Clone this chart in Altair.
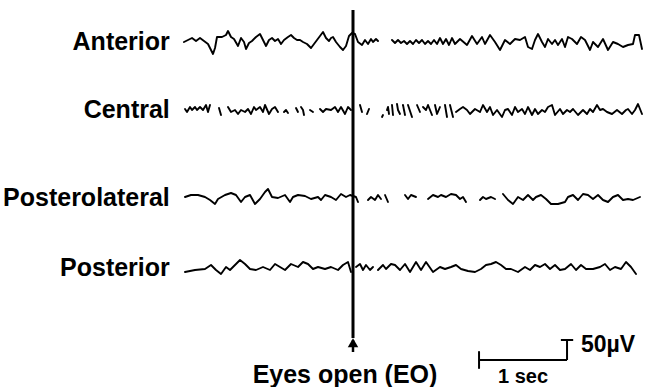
import altair as alt
import pandas as pd

# ---------------- data ----------------
FS = 88                     # digitised samples per second (1 s = 88 samples)
CHANNELS = ["Anterior", "Central", "Posterolateral", "Posterior"]
OFFSETS_UV = [0, -170, -390, -565]   # vertical stacking of the four derivations
EO_SAMPLE = 170                       # eyes open marker

anterior_n = [1, 5, 9, 13, 17, 21, 25, 28, 30, 32, 34, 39, 43, 45, 48, 51, 55, 58, 61, 63, 66, 69, 73, 77, 80, 83,
              86, 89, 92, 95, 98, 101, 105, 108, 111, 114, 117, 120, 124, 128, 131, 134, 137, 140, 143, 146, 148,
              150, 153, 157, 160, 163, 166, 169, 172, 175, 179, 182, 185, 188, 190, 193, 195,
              209, 212, 215, 218, 221, 224, 227, 230, 233, 236, 239, 242, 245, 248, 251, 254, 257, 260, 263, 266,
              269, 272, 277, 284, 289, 294, 299, 302, 307, 312, 317, 322, 327, 332, 337, 342, 345, 349, 352, 355,
              359, 362, 365, 369, 372, 375, 379, 382, 385, 389, 394, 398, 402, 407, 410, 415, 420, 425, 430, 435,
              440, 445, 450, 452, 456, 459]
anterior_uv = [0, 5, 10, 2.5, 10, 2.5, -5, -20, -30, -15, 12.5, 12.5, 17.5, 27.5, 12.5, 7.5, -10, 10, 0, -17.5,
               -2.5, 2.5, 12.5, 20, 5, -10, 5, 10, 2.5, 7.5, -5, 5, 12.5, 17.5, 10, 5, 5, 0, -5, -15, -5, 5, 15,
               25, 10, 2.5, 10, 12.5, 0, -12.5, -20, -10, 15, 22.5, 20, 0, -7.5, 5, -5, 7.5, 0, 7.5, 2.5,
               5, -2.5, 5, -2.5, 2.5, -5, 2.5, -5, 5, -2.5, 5, -5, 2.5, -5, 5, -5, 10, -5, 7.5, -7.5,
               10, -5, 7.5, -7.5, 15, -5, 12.5, -5, 17.5, 0, -20, 5, -5, 7.5, 5, 12.5, -12.5, -17.5, 5, 20,
               0, -12.5, 7.5, -5, 5, -7.5, 7.5, -12.5, 12.5, 7.5, -5, 12.5, 5, -20, 0, -12.5, 7.5, -20, 0, -5,
               -12.5, -7.5, -5, 17.5, 17.5, -17.5]
anterior_breaks = [195]

central_n = [2, 4, 7, 9, 12, 14, 17, 20, 23, 25, 27,
             36, 38,
             45, 48, 52, 55, 58, 62, 65, 68, 71, 73, 77, 80, 82, 86, 89, 92, 95,
             101, 103, 105,
             113, 115,
             118, 120, 121,
             127, 130,
             137, 140, 143, 148, 152, 155, 158, 162, 165, 168,
             177, 179,
             184, 186,
             199, 200,
             204, 205, 206,
             209, 210,
             214, 215, 217,
             220, 222,
             225, 229,
             234, 237,
             240, 243, 245, 249,
             252, 254, 257,
             262, 264,
             267, 270,
             273, 277, 280, 284, 287, 292, 297, 300, 304, 307, 310, 314, 319, 322, 325, 329, 332, 335, 339, 342,
             345, 349, 352, 355, 359, 362, 365, 369, 372, 377, 380, 384, 387, 390, 395, 400, 404, 407, 410, 414,
             417, 420, 424, 429, 434, 439, 443, 445, 449, 452, 455, 459]
central_uv = [2.5, -5, 7.5, 0, 7.5, 0, 7.5, 0, 12.5, -5, 12.5,
              5, -12.5,
              7.5, -5, 0, -10, 0, -5, 2.5, -10, 7.5, 0, 7.5, -5, 12.5, -10, 2.5, 7.5, -5,
              -5, 0, -7.5,
              5, -5,
              7.5, 0, -12.5,
              0, -5,
              2.5, -5, 2.5, 0, 7.5, -5, 7.5, -10, 7.5, 0,
              12.5, -5,
              -10, 2.5,
              -17.5, -12.5,
              0, 7.5, -10,
              12.5, -12.5,
              15, 0, -10,
              12.5, -12.5,
              12.5, -17.5,
              12.5, -5,
              7.5, 0, 12.5, -12.5,
              12.5, -10, 7.5,
              12.5, -17.5,
              12.5, -17.5,
              -5, 2.5, 7.5, 0, -10, 2.5, -5, 12.5, -5, 7.5, -12.5, 0, -17.5, 0, 2.5, -12.5, 7.5, -5, 2.5, -10,
              7.5, -12.5, 2.5, -10, 0, -5, 7.5, 12.5, -12.5, 2.5, -10, 0, -5, 2.5, -12.5, 0, -10, 2.5, -5, 12.5,
              0, 2.5, -5, -10, 0, -10, 0, 2.5, -10, 0, 15, -10]
central_breaks = [27, 38, 95, 105, 115, 121, 130, 168, 179, 186, 200, 206, 210, 217, 222, 229, 237, 249, 257,
                  264, 270]

posterolateral_n = [2, 8, 15, 22, 27, 32, 35, 42, 48, 53, 58, 62, 67, 72, 77, 82, 85, 89, 95, 102, 107, 110, 115,
                    122, 128, 135, 138, 142, 148, 153, 158, 163, 167, 173, 175,
                    185, 188, 192, 195, 198,
                    202, 205,
                    222, 225, 228, 233,
                    245, 250, 255, 258, 263, 268, 273, 277, 280, 283,
                    297, 300, 303, 308, 312,
                    320, 325, 330, 335, 340, 345, 350, 353, 358, 363, 368, 375, 382, 385, 390, 395, 400, 405, 410,
                    415, 420, 425, 430, 435, 440, 445, 450, 457]
posterolateral_uv = [2.5, 7.5, 7.5, 2.5, -5, -15, -2.5, 7.5, 12.5, 7.5, -10, 2.5, 7.5, -15, -2.5, 15, 22.5, 2.5, 0,
                     7.5, -10, 2.5, 7.5, 5, -2.5, 2.5, -5, 7.5, 2.5, -5, 10, 2.5, 7.5, 2.5, -10,
                     -5, 2.5, -5, 7.5, -2.5,
                     7.5, -10,
                     7.5, -2.5, 7.5, 2.5,
                     -2.5, 7.5, 2.5, 7.5, 2.5, 10, 7.5, -2.5, 2.5, -10,
                     -5, 2.5, -2.5, 2.5, -2.5,
                     10, -5, -15, 2.5, -5, 7.5, -5, 2.5, 7.5, -2.5, -15, -15, -10, 2.5, 7.5, -5, 10, 7.5, -2.5,
                     7.5, -5, -10, 2.5, 7.5, -5, -2.5, -5, 2.5]
posterolateral_breaks = [175, 198, 205, 233, 283, 312]

posterior_n = [2, 12, 22, 28, 33, 38, 43, 47, 52, 57, 62, 67, 73, 80, 87, 92, 97, 102, 108, 115, 120, 125, 130,
               135, 142, 148, 155, 160, 165, 168,
               173, 177, 180, 183, 187, 190,
               195, 200, 203, 208, 212, 217, 222, 227, 233, 238, 243, 250, 257, 262, 268, 273, 278, 285, 292, 298,
               303, 308, 313, 318, 323, 328, 335, 342, 347, 352, 357, 362, 367, 372, 377, 382, 388, 393, 398, 403,
               410, 417, 422, 427, 432, 438, 443, 448, 453]
posterior_uv = [-10, -5, -2.5, 7.5, -5, -15, 2.5, -5, 7.5, 20, 10, -2.5, -5, 2.5, -5, 10, 2.5, -5, 10, 2.5, 15, 10,
                -2.5, 2.5, -2.5, 2.5, -5, 7.5, 15, -10,
                2.5, 10, -5, 7.5, -5, 2.5,
                -5, 7.5, -2.5, 10, 7.5, -5, 10, -10, 15, -5, 15, -10, 2.5, -2.5, 2.5, 7.5, -2.5, -7.5, -10, -2.5,
                7.5, 10, 15, 7.5, -2.5, -2.5, -10, 2.5, -5, 7.5, 2.5, 10, -2.5, 7.5, -5, -2.5, 10, -5, 7.5, -2.5,
                -2.5, 2.5, 10, -5, 2.5, -2.5, 15, 2.5, -15]
posterior_breaks = [168, 190]

SCALE_T_S = 1.0       # time calibration bar (s)
SCALE_UV = 50         # amplitude calibration bar (µV)
SCALE_START_S = 3.364 # where the calibration bar starts
SCALE_BASE_UV = -795

# ---------------- build tables ----------------
series = [
    (anterior_n, anterior_uv, anterior_breaks),
    (central_n, central_uv, central_breaks),
    (posterolateral_n, posterolateral_uv, posterolateral_breaks),
    (posterior_n, posterior_uv, posterior_breaks),
]
rows = []
for ch, off, (ns, uvs, brks) in zip(CHANNELS, OFFSETS_UV, series):
    for n, v in zip(ns, uvs):
        seg = sum(1 for b in brks if n > b)
        rows.append({"channel": ch, "seg": f"{ch}-{seg}", "n": n, "t": n / FS, "y": v + off})
traces = pd.DataFrame(rows)

t_eo = EO_SAMPLE / FS
X_DOM = [-183 / FS, 467 / FS]
Y_DOM = [-862.5, 105]
xs = alt.Scale(domain=X_DOM, nice=False, zero=False)
ys = alt.Scale(domain=Y_DOM, nice=False, zero=False)

FONT = "Liberation Sans Narrow, Arial Narrow, Liberation Sans, Arial"

def X(field="t"):
    return alt.X(f"{field}:Q", scale=xs, axis=None)

def Y(field="y"):
    return alt.Y(f"{field}:Q", scale=ys, axis=None)

trace_layer = alt.Chart(traces).mark_line(
    color="black", strokeWidth=1.9, strokeJoin="round", strokeCap="round"
).encode(x=X(), y=Y(), detail="seg:N", order="n:Q")

labels = pd.DataFrame({"label": CHANNELS, "t": [-0.15] * 4, "y": OFFSETS_UV})
label_layer = alt.Chart(labels).mark_text(
    align="right", baseline="middle", font=FONT, fontSize=25, fontWeight="bold", color="black"
).encode(x=X(), y=Y(), text="label:N")

eo_line = pd.DataFrame({"t": [t_eo], "y": [80], "y2": [-740]})
eo_layer = alt.Chart(eo_line).mark_rule(color="black", strokeWidth=3).encode(
    x=X(), y=Y(), y2="y2:Q")
eo_stem = pd.DataFrame({"t": [t_eo], "y": [-745], "y2": [-775]})
stem_layer = alt.Chart(eo_stem).mark_rule(color="black", strokeWidth=2.5).encode(
    x=X(), y=Y(), y2="y2:Q")
arrow = pd.DataFrame({"t": [t_eo], "y": [-752]})
arrow_layer = alt.Chart(arrow).mark_point(
    shape="triangle-up", filled=True, size=110, color="black", opacity=1
).encode(x=X(), y=Y())
eo_text = pd.DataFrame({"t": [t_eo], "y": [-852], "label": ["Eyes open (EO)"]})
eo_text_layer = alt.Chart(eo_text).mark_text(
    align="center", baseline="alphabetic", font=FONT, fontSize=25, fontWeight="bold", color="black", dx=-8
).encode(x=X(), y=Y(), text="label:N")

t0, t1 = SCALE_START_S, SCALE_START_S + SCALE_T_S
hbar = pd.DataFrame({"t": [t0], "t2": [t1], "y": [SCALE_BASE_UV]})
hbar_layer = alt.Chart(hbar).mark_rule(color="black", strokeWidth=2).encode(
    x=X(), x2="t2:Q", y=Y())
vbar = pd.DataFrame({"t": [t1], "y": [SCALE_BASE_UV], "y2": [SCALE_BASE_UV + SCALE_UV]})
vbar_layer = alt.Chart(vbar).mark_rule(color="black", strokeWidth=2).encode(
    x=X(), y=Y(), y2="y2:Q")
ltick = pd.DataFrame({"t": [t0], "y": [SCALE_BASE_UV - 22], "y2": [SCALE_BASE_UV + 22]})
ltick_layer = alt.Chart(ltick).mark_rule(color="black", strokeWidth=2).encode(
    x=X(), y=Y(), y2="y2:Q")
cap = pd.DataFrame({"t": [t1 - 0.07], "t2": [t1 + 0.07], "y": [SCALE_BASE_UV + SCALE_UV]})
cap_layer = alt.Chart(cap).mark_rule(color="black", strokeWidth=2).encode(
    x=X(), x2="t2:Q", y=Y())

sec_text = pd.DataFrame({"t": [(t0 + t1) / 2], "y": [-852], "label": [f"{SCALE_T_S:g} sec"]})
sec_layer = alt.Chart(sec_text).mark_text(
    align="center", baseline="alphabetic", font=FONT, fontSize=20, fontWeight="bold", color="black"
).encode(x=X(), y=Y(), text="label:N")
uv_text = pd.DataFrame({"t": [t1], "y": [-757], "label": [f"{SCALE_UV}\u00b5V"]})
uv_layer = alt.Chart(uv_text).mark_text(
    align="left", baseline="middle", font=FONT, fontSize=23, fontWeight="bold", color="black", dx=14
).encode(x=X(), y=Y(), text="label:N")

chart = alt.layer(
    trace_layer, label_layer, eo_layer, stem_layer, arrow_layer, eo_text_layer,
    hbar_layer, vbar_layer, ltick_layer, cap_layer, sec_layer, uv_layer
).properties(
    width=650, height=387, padding=0, autosize=alt.AutoSizeParams(type="none"), background="white"
).configure_view(strokeWidth=0)

chart.save("out.html", embed_options={"renderer": "svg", "actions": False})
